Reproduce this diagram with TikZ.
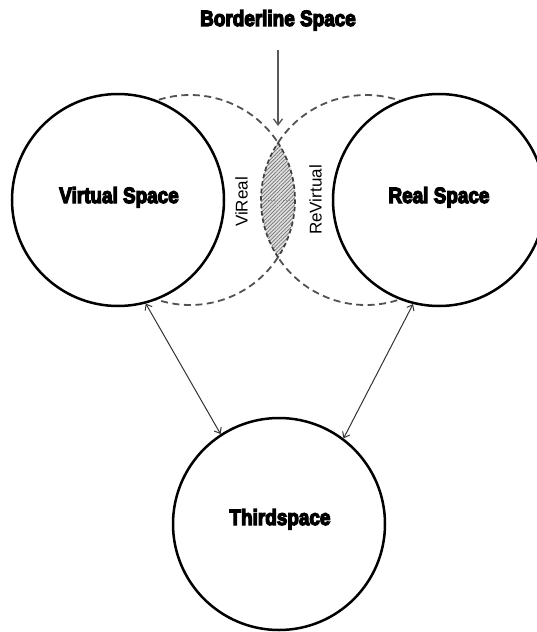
\documentclass[tikz,border=0pt]{standalone}
\usepackage{fontspec}
\setmainfont{Liberation Sans}
\newfontfamily\heavyfont{Liberation Sans Bold}[FakeBold=6]
\usetikzlibrary{arrows.meta,patterns.meta}
\begin{document}
\begin{tikzpicture}[x=1pt,y=-1pt,
  spacecirc/.style={circle,draw=black,line width=2.5pt,fill=white,minimum size=212pt,inner sep=0pt},
  dashcirc/.style={draw=black!68,line width=1.8pt,dash pattern=on 7pt off 4.5pt},
  lensline/.style={draw=black!75,line width=1.7pt,dash pattern=on 4.5pt off 3pt},
  lensfill/.style={pattern={Lines[angle=45,distance=2.6pt,line width=0.7pt]},pattern color=black!55},
  biarrow/.style={draw=black!80,line width=1pt,{Straight Barb[length=5pt,width=8pt]}-{Straight Barb[length=5pt,width=8pt]}},
  downarrow/.style={draw=black!65,line width=1.4pt,-{Straight Barb[length=6pt,width=9pt]}},
  bigtext/.style={font=\heavyfont\fontsize{22}{24}\selectfont,anchor=base,inner sep=0pt},
  smalltext/.style={font=\fontsize{17}{19}\selectfont,rotate=90,inner sep=0pt}
]
\clip (0,0) rectangle (537,632);
% dashed circles (outer parts)
\draw[dashcirc] (190,200) ++(33.07:105) arc[start angle=33.07,end angle=326.93,radius=105];
\draw[dashcirc] (366,200) ++(213.07:105) arc[start angle=213.07,end angle=506.93,radius=105];
% lens
\begin{scope}
  \clip (190,200) circle[radius=105];
  \fill[black!12] (366,200) circle[radius=105];
  \fill[lensfill] (366,200) circle[radius=105];
\end{scope}
\draw[draw=black!45,line width=1pt,dotted] (262,200) -- (294,200);
\draw[lensline] (190,200) ++(-33.07:105) arc[start angle=-33.07,end angle=33.07,radius=105];
\draw[lensline] (366,200) ++(146.93:105) arc[start angle=146.93,end angle=213.07,radius=105];
% solid circles
\node[spacecirc] (vs) at (118,200) {};
\node[spacecirc] (rs) at (439,200) {};
\node[spacecirc] (ts) at (279,524) {};
% texts
\node[bigtext] (vst) at (119,203) {\scalebox{0.86}[1]{Virtual Space}};
\node[bigtext] (rst) at (439,203) {\scalebox{0.86}[1]{Real Space}};
\node[bigtext] (tst) at (280,525) {\scalebox{0.86}[1]{Thirdspace}};
\node[bigtext] (bl) at (278,26) {\scalebox{0.86}[1]{Borderline Space}};
\node[smalltext] (vr) at (241.5,202) {ViReal};
\node[smalltext] (rv) at (315.5,200) {ReVirtual};
% arrows
\coordinate (bltail) at (278,50);
\coordinate (lenstop) at (278,126);
\draw[downarrow] (bltail) -- (lenstop);
\draw[biarrow] (vs.-75.6) -- (ts.123.5);
\draw[biarrow] (rs.-104.8) -- (ts.53.7);
\end{tikzpicture}
\end{document}
